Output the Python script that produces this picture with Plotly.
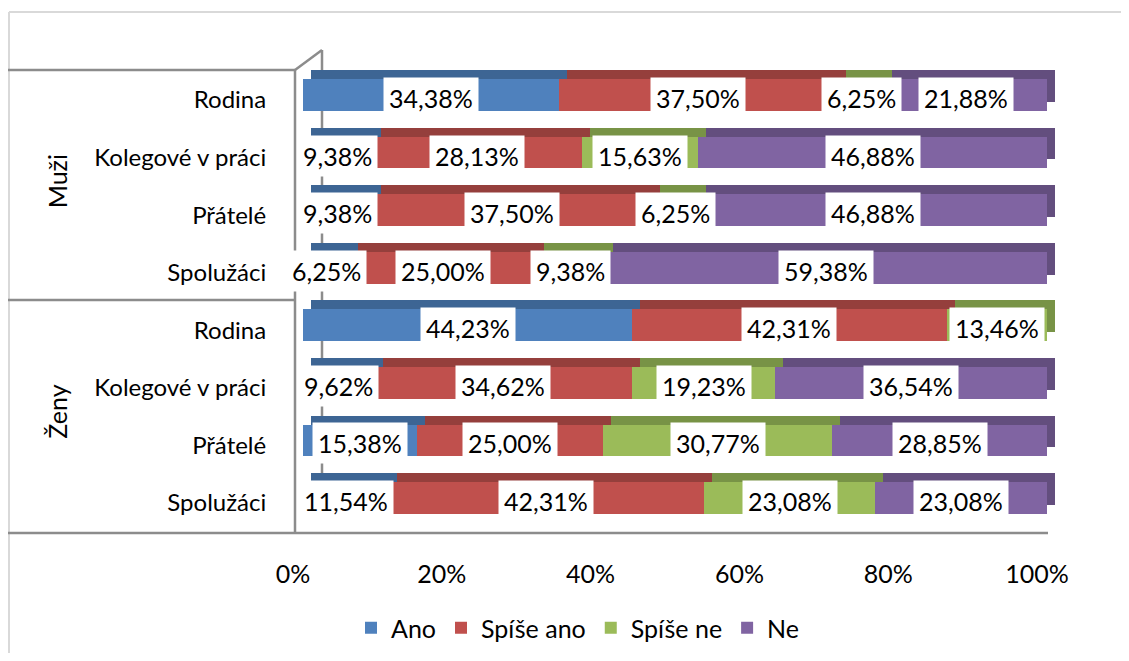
import plotly.graph_objects as go

# ---- data ----
groups = ["Muži", "Ženy"]
categories = ["Rodina", "Kolegové v práci", "Přátelé", "Spolužáci",
              "Rodina", "Kolegové v práci", "Přátelé", "Spolužáci"]
series_names = ["Ano", "Spíše ano", "Spíše ne", "Ne"]
ano = [34.38, 9.38, 9.38, 6.25, 44.23, 9.62, 15.38, 11.54]
spise_ano = [37.50, 28.13, 37.50, 25.00, 42.31, 34.62, 25.00, 42.31]
spise_ne = [6.25, 15.63, 6.25, 9.38, 13.46, 19.23, 30.77, 23.08]
ne = [21.88, 46.88, 46.88, 59.38, 0.00, 36.54, 28.85, 23.08]
x_ticks = [0, 20, 40, 60, 80, 100]

# ---- style ----
front_colors = ["#4F81BD", "#C0504D", "#9BBB59", "#8064A2"]
top_colors = ["#3D6594", "#953F3C", "#789346", "#634E7E"]
FONT = "Lato"
FS = 25
OFF = 8  # page body margin
W, H = 1129 - 2 * OFF, 661 - 2 * OFF  # fit the window without scrollbars


def px(x):
    return (x - OFF) / W


def py(y):
    return 1 - (y - OFF) / H


series = [ano, spise_ano, spise_ne, ne]
rows = list(range(len(categories)))

fig = go.Figure()

# back (top face) layer, drawn first on x/y, shifted up-right
for name, vals, col in zip(series_names, series, top_colors):
    fig.add_trace(go.Bar(
        y=rows, x=vals, orientation="h", name=name, marker_color=col,
        marker_line_width=0, width=0.55, showlegend=False, hoverinfo="skip",
        xaxis="x", yaxis="y"))

# front layer
for name, vals, col in zip(series_names, series, front_colors):
    fig.add_trace(go.Bar(
        y=rows, x=vals, orientation="h", name=name, marker_color=col,
        marker_line_width=0, width=0.55, xaxis="x2", yaxis="y2"))

# data labels
annotations = []
for i in rows:
    cum = 0.0
    for vals in series:
        v = vals[i]
        if v > 0:
            annotations.append(dict(
                x=cum + v / 2, y=i, xref="x2", yref="y2",
                text=f"{v:.2f}".replace(".", ",") + "%",
                showarrow=False, bgcolor="white", borderpad=5, yshift=-3,
                font=dict(family=FONT, size=FS, color="black")))
        cum += v

# group labels
n_per_group = len(categories) // len(groups)
for g, gname in enumerate(groups):
    annotations.append(dict(
        x=px(57), y=g * n_per_group + (n_per_group - 1) / 2,
        xref="paper", yref="y2", text=gname, textangle=-90,
        xanchor="center", yanchor="middle",
        showarrow=False, font=dict(family=FONT, size=FS, color="black")))

line = dict(color="#8C8C8C", width=2.5)
border = dict(color="#D9D9D9", width=2)
shapes = [
    dict(type="line", xref="paper", yref="paper", x0=px(9), y0=py(12),
         x1=px(1200), y1=py(12), line=border, layer="below"),
    dict(type="line", xref="paper", yref="paper", x0=px(9), y0=py(12),
         x1=px(9), y1=py(700), line=border, layer="below"),
    dict(type="line", xref="paper", yref="paper", x0=px(322), y0=py(50),
         x1=px(322), y1=py(515), line=line, layer="below"),
    dict(type="line", xref="paper", yref="paper", x0=px(295), y0=py(70),
         x1=px(322), y1=py(50), line=line, layer="below"),
    dict(type="line", xref="paper", yref="paper", x0=px(295), y0=py(70),
         x1=px(295), y1=py(533), line=line, layer="below"),
    dict(type="line", xref="paper", yref="paper", x0=px(5), y0=py(70),
         x1=px(295), y1=py(70), line=line, layer="below"),
    dict(type="line", xref="paper", yref="paper", x0=px(5), y0=py(300),
         x1=px(295), y1=py(300), line=line, layer="below"),
    dict(type="line", xref="paper", yref="paper", x0=px(5), y0=py(533),
         x1=px(1048), y1=py(533), line=line, layer="below"),
]

yr = [len(categories) - 0.5, -0.5]

fig.update_layout(
    width=W, height=H, autosize=False,
    margin=dict(l=0, r=0, t=0, b=0, pad=0),
    paper_bgcolor="white", plot_bgcolor="rgba(0,0,0,0)",
    barmode="stack", bargap=0.45,
    font=dict(family=FONT, size=FS, color="black"),
    xaxis=dict(domain=[px(311), px(1055)], range=[0, 100], visible=False,
               anchor="y", automargin=False),
    yaxis=dict(domain=[py(517.8), py(57.2)], range=yr, visible=False,
               anchor="x", automargin=False),
    xaxis2=dict(domain=[px(303), px(1047)], range=[0, 100], anchor="y2",
                showgrid=False, zeroline=False, showline=False,
                automargin=False,
                tickvals=x_ticks, ticktext=[f"{t}%" for t in x_ticks],
                ticks="outside", ticklen=25, tickcolor="rgba(0,0,0,0)",
                ticklabelshift=-10,
                tickfont=dict(family=FONT, size=FS, color="black")),
    yaxis2=dict(domain=[py(526.8), py(66.2)], range=yr, anchor="x2",
                showgrid=False, zeroline=False, showline=False,
                automargin=False,
                tickvals=rows, ticktext=categories,
                ticks="outside", ticklen=31, tickcolor="rgba(0,0,0,0)",
                ticklabelshift=-5,
                tickfont=dict(family=FONT, size=24, color="black")),
    legend=dict(orientation="h", x=px(578), xanchor="center",
                y=py(628), yanchor="middle",
                font=dict(family=FONT, size=FS, color="black"),
                itemwidth=30, traceorder="normal"),
    annotations=annotations,
    shapes=shapes,
)

fig.write_html("out.html")
